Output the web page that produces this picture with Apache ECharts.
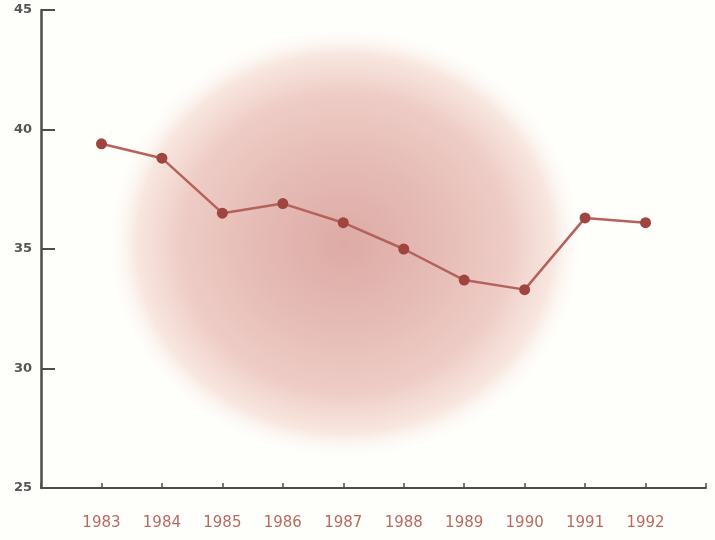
<!DOCTYPE html>
<html>
<head>
<meta charset="utf-8">
<script src="https://cdn.jsdelivr.net/npm/echarts@6/dist/echarts.min.js"></script>
<style>
html,body{margin:0;padding:0;background:#fefefb;}
#chart{width:715px;height:540px;}
</style>
</head>
<body>
<div id="chart"></div>
<script>
var years = [1983, 1984, 1985, 1986, 1987, 1988, 1989, 1990, 1991, 1992];
var values = [39.4, 38.8, 36.5, 36.9, 36.1, 35.0, 33.7, 33.3, 36.3, 36.1];
var yTicks = [25, 30, 35, 40, 45];

var chart = echarts.init(document.getElementById('chart'), null, {renderer: 'canvas'});
var data = years.map(function (y, i) { return [y, values[i]]; });

chart.setOption({
  backgroundColor: '#fefefb',
  animation: false,
  grid: {left: 41, right: 9, top: 10, bottom: 52},
  graphic: [{
    type: 'circle',
    z: -10,
    silent: true,
    x: 345, y: 243,
    scaleX: 1.1, scaleY: 1,
    shape: {cx: 0, cy: 0, r: 215},
    style: {
      fill: {
        type: 'radial', x: 0.5, y: 0.5, r: 0.5,
        colorStops: [
          {offset: 0, color: 'rgba(222,170,166,1)'},
          {offset: 0.4, color: 'rgba(230,188,182,1)'},
          {offset: 0.7, color: 'rgba(238,205,198,1)'},
          {offset: 0.88, color: 'rgba(246,224,216,0.8)'},
          {offset: 1, color: 'rgba(254,250,245,0)'}
        ]
      }
    }
  }],
  xAxis: {
    type: 'value',
    min: 1982, max: 1993, interval: 1,
    axisLine: {show: true, lineStyle: {color: '#4d4d4d', width: 2}},
    axisTick: {show: true, inside: true, length: 5, lineStyle: {color: '#4d4d4d', width: 1.5}},
    splitLine: {show: false},
    axisLabel: {
      margin: 28,
      color: '#b86a62',
      fontSize: 15,
      fontFamily: '"DejaVu Sans", sans-serif',
      formatter: function (v) { return years.indexOf(v) >= 0 ? String(v) : ''; }
    }
  },
  yAxis: {
    type: 'value',
    min: yTicks[0], max: yTicks[yTicks.length - 1], interval: 5,
    axisLine: {show: true, lineStyle: {color: '#4d4d4d', width: 2.5}},
    axisTick: {show: true, inside: true, length: 14, lineStyle: {color: '#4d4d4d', width: 2}},
    splitLine: {show: false},
    axisLabel: {
      margin: 9,
      color: '#555555',
      fontSize: 13,
      fontWeight: 'bold',
      fontFamily: '"DejaVu Sans", sans-serif'
    }
  },
  series: [{
    type: 'line',
    data: data,
    symbol: 'circle',
    symbolSize: 11,
    lineStyle: {color: '#b5625c', width: 2.5},
    itemStyle: {color: '#a0443f'},
    z: 5
  }]
});
</script>
</body>
</html>
